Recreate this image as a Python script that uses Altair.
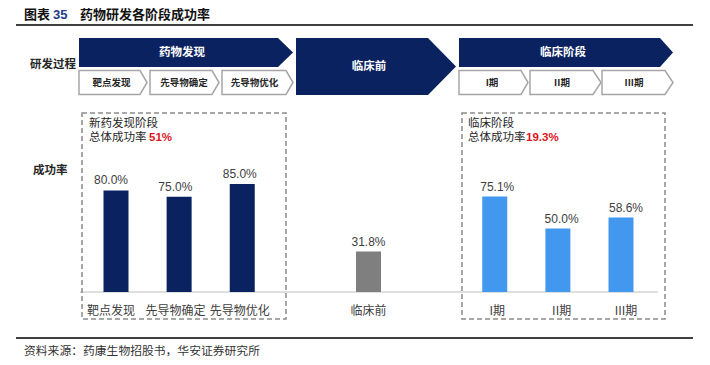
import altair as alt
import pandas as pd

# ---------------- data ----------------
stages = ["靶点发现", "先导物确定", "先导物优化", "临床前", "I期", "II期", "III期"]
rates = [80.0, 75.0, 85.0, 31.8, 75.1, 50.0, 58.6]
slots = [0, 1, 2, 4, 6, 7, 8]
groups = ["药物发现", "药物发现", "药物发现", "临床前", "临床阶段", "临床阶段", "临床阶段"]
group_names = ["药物发现", "临床前", "临床阶段"]
group_colors = ["#0b2260", "#7f7f7f", "#4198ee"]
box_titles = ["新药发现阶段", "临床阶段"]
box_rates = ["51%", "19.3%"]
title_parts = ["图表", "35", "药物研发各阶段成功率"]
source_text = "资料来源：药康生物招股书，华安证券研究所"
row_labels = ["研发过程", "成功率"]

# ---------------- styling / layout ----------------
NAVY = "#0b2260"
FONT = "Liberation Sans, Noto Sans CJK SC"
CJK = "Noto Sans CJK SC"
W, H = 694, 349
PX = alt.Scale(domain=[8, 702], range=[0, W], nice=False, zero=False)
PY = alt.Scale(domain=[8, 357], range=[0, H], nice=False, zero=False)


def X(f):
    return alt.X(f, type="quantitative", scale=PX, axis=None)


def Y(f):
    return alt.Y(f, type="quantitative", scale=PY, axis=None)


def pent(name, x0, xs, xt, top, bot):
    mid = (top + bot) / 2
    return [
        dict(shape=name, px=x0, top=top, bot=bot),
        dict(shape=name, px=xs, top=top, bot=bot),
        dict(shape=name, px=xt, top=mid, bot=mid),
    ]


# big navy arrows
big = pd.DataFrame(
    pent("a", 79, 278, 293, 38, 67)
    + pent("b", 296, 428, 456, 38, 95)
    + pent("c", 459, 660, 673, 38, 67)
)
big_lbl = pd.DataFrame(dict(t=group_names, px=[182, 369, 563], py=[52.5, 66.5, 52.5]))

# small outlined arrows
sub_geo = [(79, 140, 147), (150, 212, 219), (222, 286, 293),
           (459, 521, 528), (530, 593, 601), (602, 665, 673)]
rows = []
for i, (a, b, c) in enumerate(sub_geo):
    rows += pent(f"s{i}", a, b, c, 70.5, 94.5)
small = pd.DataFrame(rows)
sub_names = stages[:3] + stages[4:]
small_lbl = pd.DataFrame(dict(t=sub_names, px=[111.5, 184, 254.5, 492, 562, 634], py=[82.5] * 6))

layers = []
layers.append(
    alt.Chart(big).mark_area(fill=NAVY, strokeWidth=0).encode(
        x=X("px"), y=Y("top"), y2="bot", detail="shape:N")
)
layers.append(
    alt.Chart(small).mark_area(fill="white", stroke="#a6a6a6", strokeWidth=1.5).encode(
        x=X("px"), y=Y("top"), y2="bot", detail="shape:N")
)
layers.append(
    alt.Chart(big_lbl).mark_text(font=CJK, fontSize=11.5, fontWeight="bold", color="white",
                                 baseline="middle").encode(x=X("px"), y=Y("py"), text="t:N")
)
layers.append(
    alt.Chart(small_lbl).mark_text(font=CJK, fontSize=9.5, fontWeight="bold", color="#262626",
                                   baseline="middle").encode(x=X("px"), y=Y("py"), text="t:N")
)

# row labels
row_df = pd.DataFrame(dict(t=row_labels, px=[30, 33], py=[65, 171]))
layers.append(
    alt.Chart(row_df).mark_text(font=CJK, fontSize=11.5, fontWeight="bold", color="#262626",
                                align="left", baseline="middle").encode(x=X("px"), y=Y("py"), text="t:N")
)

# title
tdf = pd.DataFrame(dict(t=title_parts, px=[24, 53, 80], py=[14.5] * 3, c=["#111111", "#1f3a8a", "#111111"]))
layers.append(
    alt.Chart(tdf).mark_text(font="Liberation Sans, Noto Sans CJK SC", fontSize=13, fontWeight="bold",
                             align="left", baseline="middle").encode(
        x=X("px"), y=Y("py"), text="t:N", color=alt.Color("c:N", scale=None))
)

# horizontal rules (title underline, footer line, baseline)
rules = pd.DataFrame(dict(x1=[16, 16], x2=[693, 693], y=[25, 338]))
layers.append(
    alt.Chart(rules).mark_rule(color="#000000", strokeWidth=1.5).encode(x=X("x1"), x2="x2", y=Y("y"))
)
base = pd.DataFrame(dict(x1=[80], x2=[658], y=[292]))
layers.append(
    alt.Chart(base).mark_rule(color="#bfbfbf", strokeWidth=1).encode(x=X("x1"), x2="x2", y=Y("y"))
)

# dashed boxes
boxes = pd.DataFrame(dict(x1=[82, 462], x2=[286, 665], y1=[113, 113], y2=[319, 319]))
layers.append(
    alt.Chart(boxes).mark_rect(fill="transparent", stroke="#8c8c8c", strokeWidth=1.5,
                               strokeDash=[5, 3]).encode(x=X("x1"), x2="x2", y=Y("y1"), y2="y2")
)

# box captions
cap1 = pd.DataFrame(dict(t=box_titles, px=[89, 468], py=[123.5, 123.5]))
cap2 = pd.DataFrame(dict(t=["总体成功率", "总体成功率"], px=[89, 468], py=[138, 138]))
cap3 = pd.DataFrame(dict(t=box_rates, px=[149, 526], py=[138, 138]))
for d in (cap1, cap2):
    layers.append(
        alt.Chart(d).mark_text(font=CJK, fontSize=11.5, color="#262626", align="left",
                               baseline="middle").encode(x=X("px"), y=Y("py"), text="t:N")
    )
layers.append(
    alt.Chart(cap3).mark_text(font=FONT, fontSize=11.5, fontWeight="bold", color="#e0141e", align="left",
                              baseline="middle").encode(x=X("px"), y=Y("py"), text="t:N")
)

# source
src = pd.DataFrame(dict(t=[source_text], px=[24], py=[351]))
layers.append(
    alt.Chart(src).mark_text(font=CJK, fontSize=11.8, color="#333333", align="left",
                             baseline="middle").encode(x=X("px"), y=Y("py"), text="t:N")
)

# ---------------- bars ----------------
bars = pd.DataFrame(dict(stage=stages, rate=rates, slot=slots, grp=groups,
                         lbl=[f"{r:.1f}%" for r in rates]))
SX = alt.Scale(domain=[0, 8], range=[103, 618], nice=False, zero=False)
SY = alt.Scale(domain=[0, 100], range=[284, 157], nice=False)
bx = alt.X("slot:Q", scale=SX, axis=None)
by = alt.Y("rate:Q", scale=SY, axis=None)

layers.append(
    alt.Chart(bars).mark_bar(size=25).encode(
        x=bx, y=by,
        color=alt.Color("grp:N", scale=alt.Scale(domain=group_names, range=group_colors), legend=None))
)
layers.append(
    alt.Chart(bars).mark_text(font=FONT, fontSize=12, color="#404040", baseline="middle", dy=-10).encode(
        x=bx, y=by, text="lbl:N")
)
layers.append(
    alt.Chart(bars).mark_text(font=CJK, fontSize=12, color="#404040", baseline="middle").encode(
        x=bx, y=alt.value(302.5), text="stage:N")
)

chart = alt.layer(*layers).resolve_scale(x="independent", y="independent", color="independent").properties(
    width=W, height=H, padding=0, autosize=alt.AutoSizeParams(type="none"),
    background="white"
).configure_view(stroke=None)

chart.save("out.html", embed_options={"renderer": "svg", "actions": False})
